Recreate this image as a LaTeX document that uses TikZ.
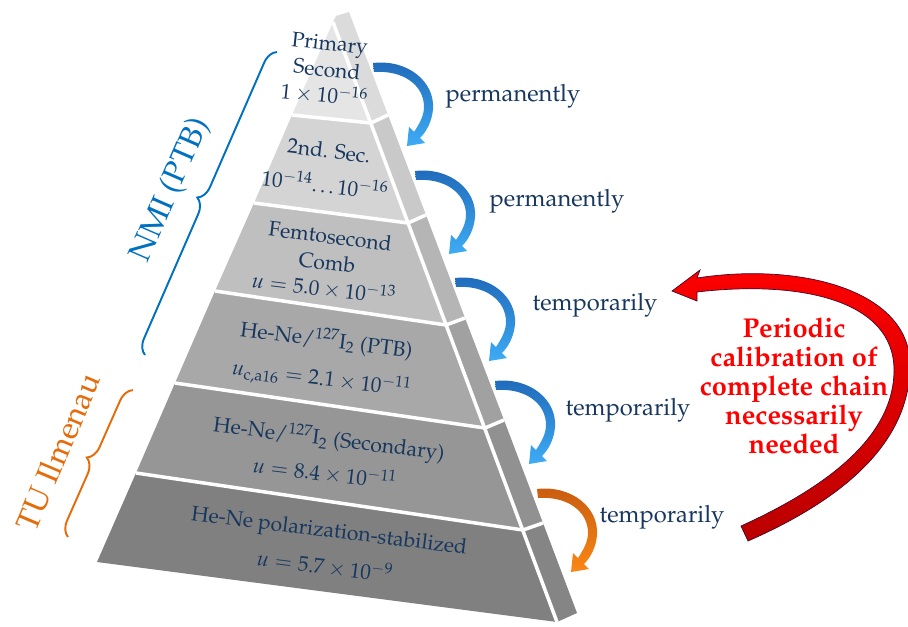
\documentclass[tikz,border=0pt]{standalone}
\usepackage[T1]{fontenc}
\usepackage{mathpazo}
\usetikzlibrary{decorations.pathreplacing}

\definecolor{navytext}{RGB}{23,55,94}
\definecolor{nmiblue}{RGB}{0,112,192}
\definecolor{tuorange}{RGB}{228,108,10}
\definecolor{arrowdark}{RGB}{31,105,185}
\definecolor{arrowlight}{RGB}{62,172,245}
\definecolor{orangedark}{RGB}{200,92,15}
\definecolor{orangelight}{RGB}{250,135,20}
\definecolor{chainred}{RGB}{255,0,0}
\definecolor{chaindark}{RGB}{185,0,0}
\definecolor{chainedge}{RGB}{70,10,40}
% layer greys, front and side
\definecolor{front1}{gray}{0.90}
\definecolor{front2}{gray}{0.83}
\definecolor{front3}{gray}{0.75}
\definecolor{front4}{gray}{0.66}
\definecolor{front5}{gray}{0.59}
\definecolor{front6}{gray}{0.50}
\definecolor{side1}{gray}{0.86}
\definecolor{side2}{gray}{0.79}
\definecolor{side3}{gray}{0.71}
\definecolor{side4}{gray}{0.63}
\definecolor{side5}{gray}{0.57}
\definecolor{side6}{gray}{0.52}

\tikzset{
  layertext/.style={text=navytext, align=center, font=\fontsize{12}{15}\selectfont, rotate=-7},
  modelabel/.style={text=navytext, font=\fontsize{13.5}{16}\selectfont},
  bracelabel/.style={font=\fontsize{18}{20}\selectfont},
  groupbrace/.style={decorate, decoration={brace, amplitude=0.3cm}, line width=1.1pt},
  seam/.style={white, line width=2pt},
  pics/calarrow/.style 2 args={code={
    \shade[top color=#1, bottom color=#2]
      (0,-4) .. controls (35,-8) and (62,15) .. (60,42)
      .. controls (59,55) and (53,65) .. (47,71)
      -- (52,76) -- (34,79) -- (36,60) -- (41,65)
      .. controls (47,56) and (51,48) .. (51,40)
      .. controls (51,18) and (30,3) .. (1,5) -- cycle;
  }}
}

\begin{document}
\begin{tikzpicture}[x=0.02cm, y=-0.02cm]
\useasboundingbox (0,0) rectangle (908,626);
\clip (0,0) rectangle (908,626);

% pyramid corners
\coordinate (A) at (333,22);
\coordinate (t0) at (336,16);
\coordinate (s0) at (349,12);
\coordinate (l1) at (292,115);
\coordinate (l2) at (254,203);
\coordinate (l3) at (215,291);
\coordinate (l4) at (175,383);
\coordinate (l5) at (136,473);
\coordinate (l6) at (97,562);
\coordinate (r1) at (371,123);
\coordinate (r2) at (408,223);
\coordinate (r3) at (446,325);
\coordinate (r4) at (485,428);
\coordinate (r5) at (523,530);
\coordinate (r6) at (557,622);
\coordinate (s1) at (388,115);
\coordinate (s2) at (426,215);
\coordinate (s3) at (465,318);
\coordinate (s4) at (504,420);
\coordinate (s5) at (543,523);
\coordinate (s6) at (577,613);

% front faces
\fill[front1] (A) -- (r1) -- (l1) -- cycle;
\fill[front2] (l1) -- (r1) -- (r2) -- (l2) -- cycle;
\fill[front3] (l2) -- (r2) -- (r3) -- (l3) -- cycle;
\fill[front4] (l3) -- (r3) -- (r4) -- (l4) -- cycle;
\fill[front5] (l4) -- (r4) -- (r5) -- (l5) -- cycle;
\fill[front6] (l5) -- (r5) -- (r6) -- (l6) -- cycle;
% side faces
\fill[side1] (A) -- (t0) -- (s0) -- (s1) -- (r1) -- cycle;
\fill[side2] (r1) -- (s1) -- (s2) -- (r2) -- cycle;
\fill[side3] (r2) -- (s2) -- (s3) -- (r3) -- cycle;
\fill[side4] (r3) -- (s3) -- (s4) -- (r4) -- cycle;
\fill[side5] (r4) -- (s4) -- (s5) -- (r5) -- cycle;
\fill[side6] (r5) -- (s5) -- (s6) -- (r6) -- cycle;
% white seams
\draw[seam] (A) -- (r6);
\draw[seam] (l1) -- (r1) -- (s1);
\draw[seam] (l2) -- (r2) -- (s2);
\draw[seam] (l3) -- (r3) -- (s3);
\draw[seam] (l4) -- (r4) -- (s4);
\draw[seam] (l5) -- (r5) -- (s5);

% layer texts
\node[layertext, rotate=1] (prim) at (327,70) {Primary\\Second\\$1\times10^{-16}$};
\node[layertext] (sec2) at (327,168) {2nd. Sec.\\[5pt]$10^{-14}$\ldots$10^{-16}$};
\node[layertext] (comb) at (327,263) {Femtosecond\\Comb\\$u=5.0\times10^{-13}$};
\node[layertext] (ptb) at (324,360) {He-Ne/$^{127}$I$_2$ (PTB)\\[7pt]$u_{\mathrm{c,a16}}=2.1\times10^{-11}$};
\node[layertext] (tusec) at (327,455) {He-Ne/$^{127}$I$_2$ (Secondary)\\[5pt]$u=8.4\times10^{-11}$};
\node[layertext] (hene) at (327,549) {He-Ne polarization-stabilized\\[6pt]$u=5.7\times10^{-9}$};

% transfer arrows
\coordinate (a1) at (373,67);
\coordinate (a2) at (415,175);
\coordinate (a3) at (455,282);
\coordinate (a4) at (495,385);
\coordinate (a5) at (537,493);
\pic at (a1) {calarrow={arrowdark}{arrowlight}};
\pic at (a2) {calarrow={arrowdark}{arrowlight}};
\pic at (a3) {calarrow={arrowdark}{arrowlight}};
\pic at (a4) {calarrow={arrowdark}{arrowlight}};
\pic at (a5) {calarrow={orangedark}{orangelight}};

\node[modelabel] (perm1) at (513,96) {permanently};
\node[modelabel] (perm2) at (557,201) {permanently};
\node[modelabel] (temp1) at (595,305) {temporarily};
\node[modelabel] (temp2) at (628,410) {temporarily};
\node[modelabel] (temp3) at (662,517) {temporarily};

% braces
\coordinate (nmibot) at (145,355);
\coordinate (nmitop) at (277,52);
\coordinate (tubot) at (68,537);
\coordinate (tutop) at (133,390);
\draw[groupbrace, nmiblue] (nmibot) -- (nmitop);
\draw[groupbrace, tuorange] (tubot) -- (tutop);
\node[bracelabel, text=nmiblue, rotate=66.5] (nmi) at (171,190) {NMI (PTB)};
\node[bracelabel, text=tuorange, rotate=67] (tuil) at (58,452) {TU Ilmenau};

% calibration loop
\shadedraw[top color=chainred, bottom color=chaindark, draw=chainedge, line width=0.4pt]
  (697,278) .. controls (800,262) and (910,290) .. (910,365)
  .. controls (910,450) and (830,505) .. (748,541)
  -- (741,526)
  .. controls (820,490) and (894,440) .. (894,370)
  .. controls (894,300) and (800,280) .. (697,292)
  -- (697,301) -- (672,291) -- (700,270) -- cycle;
\node[text=chainred, align=center, font=\fontsize{15.5}{16.5}\selectfont\bfseries] (periodic) at (794,386)
  {Periodic\\calibration of\\complete chain\\necessarily\\needed};
\end{tikzpicture}
\end{document}
